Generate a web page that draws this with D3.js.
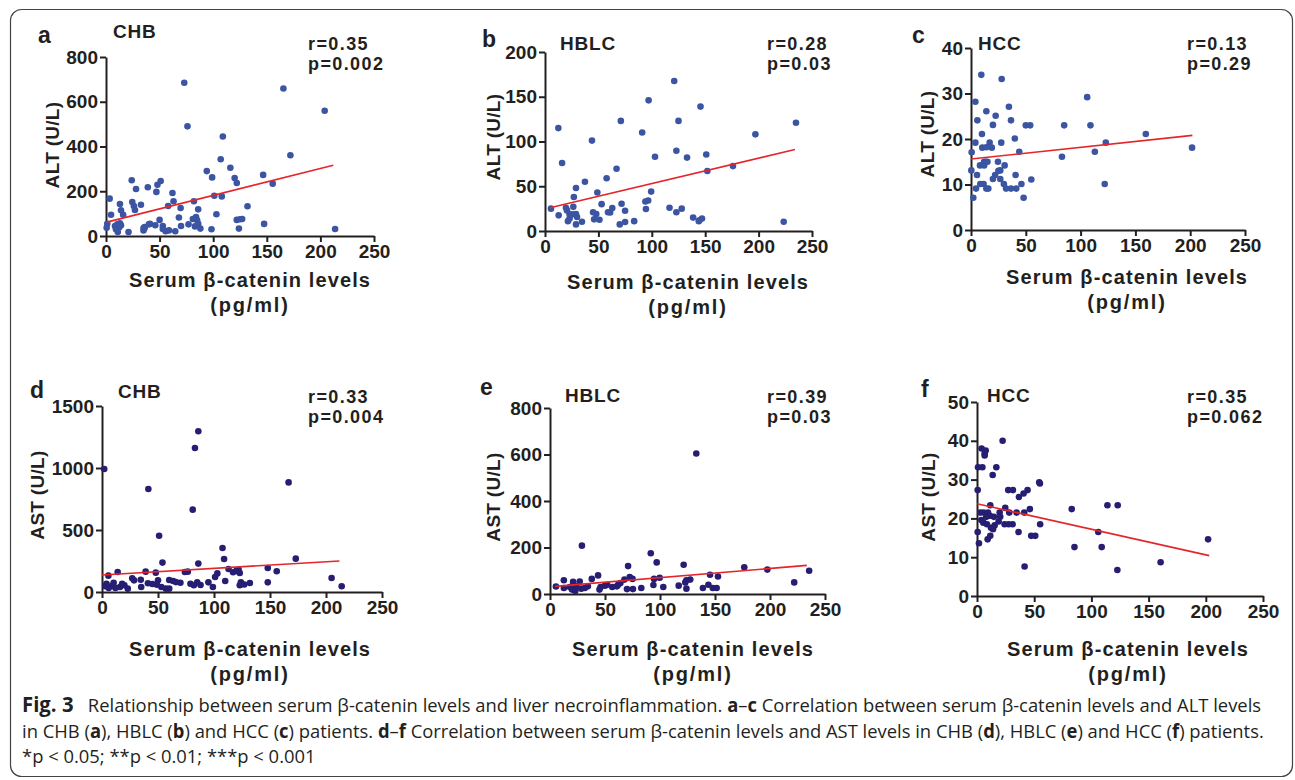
<!DOCTYPE html>
<html>
<head>
<meta charset="utf-8">
<script src="https://cdn.jsdelivr.net/npm/d3@7"></script>
<style>
  body { margin: 0; background: #fff; }
  svg text { fill: #231f20; }
  .axis path, .axis line { stroke: #231f20; stroke-width: 2; }
  .axis text { font-family: "Liberation Sans", Arial, sans-serif; font-weight: bold; font-size: 19px; fill: #231f20; }
</style>
</head>
<body>
<svg id="fig" width="1295" height="780"></svg>
<script>
// ---- data ----
// a: CHB, ALT
var aPoints = [[73,685],[165.5,659],[204,560],[76,490],[109,445],[172,361],[107,343],[94,290],[116,305],[99,262],[120,259],[122,237],[146.6,273],[155.5,234],[24,249],[28,210],[39,218],[48,229],[51,246],[47,197],[3.4,167],[13,143],[24.5,152],[26,134],[32.6,140],[27,116],[62,192],[63,155],[58,134],[14,115],[16,95],[4.7,95],[101,180],[108,177],[82,155],[69.6,125],[86,119],[132,133],[103,97],[68,83],[81,76],[84,85],[85,70],[86,54],[77,52],[50,72],[41,54],[36,36],[46,48],[53,45],[122,72],[127,76],[125,75],[147.5,54],[124,33],[213.7,31],[98.4,30],[88,33],[70,45],[83,43],[55.6,21],[64.6,21],[58.7,25],[53,31],[1.2,55],[0.6,37],[8.4,45],[10.6,52],[13,57],[9.3,30],[11,18],[21,18],[35,25],[35,36],[12.4,39],[14,48],[40,52],[36,40]];
// b: HBLC, ALT
var bPoints = [[121,167.6],[97,146],[145.6,139],[235,121],[71,123],[125,123],[12.5,115],[91,110],[197,108],[44,101],[123,89.6],[151,85.5],[103,83],[133,82],[16,76],[176,72.5],[152,67],[67,69.5],[57.7,59],[37.4,55],[29,48],[49,43],[99.4,44],[27,38],[96.6,34],[94,33],[53,30],[71.7,30.5],[5.6,25],[19.6,26],[26.5,27],[20.6,23],[116.6,26],[128,25],[94.5,24.5],[75,22.7],[63,25.6],[61,20.8],[59,21],[45,21],[48,19],[123,21],[12.8,17.5],[23,18.6],[25.6,18.6],[29,19],[30,15.6],[23,14],[21.5,11],[138.7,15],[147,14],[144.6,12],[144,11],[223.5,10.4],[34.6,10.4],[29,7.4],[46,13],[51,12.6],[75,10],[83.5,11],[70,7.4]];
// c: HCC, ALT
var cPoints = [[9.4,34.1],[28,33.2],[106,29.2],[4,28.2],[34.6,27.1],[14,26.1],[5.8,24.1],[22.5,25.1],[36.5,24.1],[50,23],[54,23],[85,23],[109,23],[20,23.1],[10,21.1],[159.5,21.1],[4,19.2],[17,19.2],[27.6,19.2],[123,19.2],[40,20.1],[10.3,18.1],[14,18.2],[19,18.1],[201.7,18.1],[0.6,17.1],[44,17.2],[113,17.2],[83,16.1],[13.4,15],[12,15],[15,15],[24.6,15],[8.2,14.2],[12,14.2],[30.7,14.2],[0.3,13.1],[26.7,13.1],[5.5,12.1],[22,12.1],[40.7,12.1],[25,13],[20,11.2],[26.7,11.2],[55,11.1],[8.5,10.1],[11.5,10.1],[30,10.1],[46,10.1],[122,10.1],[4.6,9.1],[14,9.1],[15.8,9.1],[32,9.1],[36.5,9.1],[41.3,9.1],[2.1,7.1],[48,7.1]];
// d: CHB, AST
var dPoints = [[86,1296],[83,1161],[2,992],[166.6,884],[41.4,831],[81,664],[51,454],[107.6,355],[109,266],[173,269],[54,237],[86,229],[148,194],[113,185],[122,180],[123,153],[117,159],[156,167],[103,150],[101,121],[205,113],[74,161],[76.6,164],[39,164],[48,156],[14,161],[5.7,132],[27,110],[28.6,94],[34.6,99],[41,70],[50,94],[60,97],[63.5,89],[70,75],[110,89],[148,78],[124,78],[132,73],[95,78],[79,67],[85,78],[88,56],[99,40],[82,54],[123,54],[214,46],[3,46],[9,51],[16,40],[23,27],[6,32],[12,32],[4,67],[49,59],[53,40],[57,27],[60,27],[35,40],[18,67],[10.4,75],[45,65],[66,80],[120,170],[127,60],[20,55]];
// e: HBLC, AST
var ePoints = [[133,604],[29,208],[91.6,175],[97,136],[121.5,126],[71,120],[176.6,115],[197.6,105],[235.6,100],[145.5,83],[152.7,75],[72.5,73],[43.7,80],[38,65],[99.7,70],[94.6,65],[75,65],[67.7,62],[127.5,62],[124,59],[123,50],[12.6,59],[27,54],[21,52],[222,50],[5.4,32],[12.6,26],[18,30],[24,33],[20,19],[23,13],[28.4,23],[31.7,26],[34.4,33],[45,19],[46,30],[50,36],[52,40],[56.6,30],[60.8,33],[62,40],[64,47],[70,21],[75.4,21],[83,26],[94,39],[103,30],[117,36],[124,23],[139,26],[144,40],[148,26],[151.5,26]];
// f: HCC, AST
var fPoints = [[22.4,40],[4,38],[7.6,37.5],[6.7,36.7],[6.7,36.2],[0.9,33.2],[4.7,33.2],[16.9,33.2],[13.7,31.2],[0.6,27.3],[27.3,27.3],[31.4,27.3],[44.2,27.3],[54.4,29.3],[55,29],[40.7,26.4],[36.6,25.5],[24.7,22.7],[11.6,23.4],[46.2,22.4],[82.8,22.4],[114,23.4],[123,23.4],[2.9,21.5],[5.8,21.5],[9.6,21.5],[14.8,20.4],[19.8,21.5],[20.3,20.4],[28.2,21.5],[34.6,21.5],[41.3,21.5],[8.1,20.4],[11.3,20.7],[3.8,19.6],[5.5,18.9],[8.7,18.5],[12.2,17.6],[15.4,18.2],[14,17.2],[18.9,19.2],[24.1,18.5],[27.6,18.5],[31.1,18.5],[55.2,18.5],[0.6,16.5],[36.3,16.5],[106,16.5],[11.6,15.5],[9.3,14.6],[47.4,15.5],[50.9,15.5],[202,14.6],[1.7,13.6],[85.2,12.6],[109,12.6],[160.5,8.7],[41.6,7.6],[122.7,6.7]];

// fitted lines (end points)
var aFit = [[0.8,62],[212,316]];
var bFit = [[4.7,26],[234,91]];
var cFit = [[0,15.6],[202,20.8]];
var dFit = [[0,137],[212,250]];
var eFit = [[4.5,33],[233.5,123]];
var fFit = [[0,23.8],[203,10.4]];

var panelLetters = ["a", "b", "c", "d", "e", "f"];
var groups = ["CHB", "HBLC", "HCC", "CHB", "HBLC", "HCC"];
var yLabels = ["ALT (U/L)", "ALT (U/L)", "ALT (U/L)", "AST (U/L)", "AST (U/L)", "AST (U/L)"];
var rValues = ["r=0.35", "r=0.28", "r=0.13", "r=0.33", "r=0.39", "r=0.35"];
var pValues = ["p=0.002", "p=0.03", "p=0.29", "p=0.004", "p=0.03", "p=0.062"];
var yMax = [800, 200, 40, 1500, 800, 50];
var yTicks = [[0,200,400,600,800], [0,50,100,150,200], [0,10,20,30,40], [0,500,1000,1500], [0,200,400,600,800], [0,10,20,30,40,50]];
var xTicks = [0, 50, 100, 150, 200, 250];
var xLabel1 = "Serum β-catenin levels";
var xLabel2 = "(pg/ml)";

// ---- layout ----
var svg = d3.select("#fig");
var font = "'Liberation Sans', Arial, sans-serif";
var blueDot = "#3b55a3";
var navyDot = "#261e72";
var fitRed = "#e4262b";

var layout = [
	{x0: 106, x1: 374, y0: 236, y1: 57, lx: 38, ly: 43, tx: 113, ty: 38, rx: 308, ry: 50, ylx: 52, yly: 145, xlx: 250, xly: 287, dot: blueDot},
	{x0: 545, x1: 812, y0: 231, y1: 52, lx: 482, ly: 47, tx: 560, ty: 50, rx: 767, ry: 50, ylx: 493, yly: 137, xlx: 688, xly: 289, dot: blueDot},
	{x0: 971, x1: 1245, y0: 230, y1: 48, lx: 912, ly: 43, tx: 978, ty: 50, rx: 1187, ry: 50, ylx: 927, yly: 134, xlx: 1127, xly: 284, dot: blueDot},
	{x0: 102, x1: 382, y0: 592, y1: 406, lx: 30, ly: 398, tx: 118, ty: 398, rx: 308, ry: 403, ylx: 37, yly: 495, xlx: 250, xly: 656, dot: navyDot},
	{x0: 550, x1: 825, y0: 594, y1: 408, lx: 480, ly: 395, tx: 565, ty: 402, rx: 767, ry: 403, ylx: 493, yly: 497, xlx: 693, xly: 656, dot: navyDot},
	{x0: 977, x1: 1263, y0: 596, y1: 402, lx: 921, ly: 397, tx: 987, ty: 402, rx: 1187, ry: 403, ylx: 928, yly: 497, xlx: 1128, xly: 656, dot: navyDot}
];

var allPoints = [aPoints, bPoints, cPoints, dPoints, ePoints, fPoints];
var allFits = [aFit, bFit, cFit, dFit, eFit, fFit];

// outer rounded frame
svg.append("rect")
	.attr("x", 10.5).attr("y", 9.5)
	.attr("width", 1282).attr("height", 767)
	.attr("rx", 11).attr("ry", 11)
	.attr("fill", "none")
	.attr("stroke", "#444")
	.attr("stroke-width", 1.2);

function drawPanel(i) {
	var L = layout[i];
	var g = svg.append("g");

	var x = d3.scaleLinear().domain([0, 250]).range([L.x0, L.x1]);
	var y = d3.scaleLinear().domain([0, yMax[i]]).range([L.y0, L.y1]);

	g.append("g")
	.attr("class", "axis")
	.attr("transform", "translate(0," + L.y0 + ")")
	.call(d3.axisBottom(x).tickValues(xTicks).tickSize(6).tickSizeOuter(0).tickPadding(3).tickFormat(d3.format("d")));

	g.append("g")
	.attr("class", "axis")
	.attr("transform", "translate(" + L.x0 + ",0)")
	.call(d3.axisLeft(y).tickValues(yTicks[i]).tickSize(6).tickSizeOuter(0).tickPadding(2).tickFormat(d3.format("d")));

	// dots
	g.selectAll(".dot")
	.data(allPoints[i])
	.enter().append("circle")
	.attr("class", "dot")
	.attr("r", 3.3)
	.attr("cx", function(d) { return x(d[0]); })
	.attr("cy", function(d) { return y(d[1]); })
	.style("fill", L.dot);

	// regression line
	g.append("path")
	.datum(allFits[i])
	.attr("d", d3.line().x(function(d) { return x(d[0]); }).y(function(d) { return y(d[1]); }))
	.attr("fill", "none")
	.attr("stroke", fitRed)
	.attr("stroke-width", 1.6);

	// texts
	g.append("text")
	.attr("x", L.lx).attr("y", L.ly)
	.style("font-family", font).style("font-weight", "bold").style("font-size", "23px")
	.text(panelLetters[i]);

	g.append("text")
	.attr("x", L.tx).attr("y", L.ty)
	.style("font-family", font).style("font-weight", "bold").style("font-size", "19px")
	.style("letter-spacing", "0.8px")
	.text(groups[i]);

	g.append("text")
	.attr("x", L.rx).attr("y", L.ry)
	.style("font-family", font).style("font-weight", "bold").style("font-size", "18px")
	.style("letter-spacing", "1.4px")
	.text(rValues[i]);

	g.append("text")
	.attr("x", L.rx).attr("y", L.ry + 20)
	.style("font-family", font).style("font-weight", "bold").style("font-size", "18px")
	.style("letter-spacing", "1.4px")
	.text(pValues[i]);

	g.append("text")
	.attr("transform", "translate(" + L.ylx + "," + L.yly + ") rotate(-90)")
	.attr("text-anchor", "middle")
	.attr("dy", "0.35em")
	.style("font-family", font).style("font-weight", "bold").style("font-size", "19px")
	.style("letter-spacing", "0.3px")
	.text(yLabels[i]);

	g.append("text")
	.attr("x", L.xlx).attr("y", L.xly)
	.attr("text-anchor", "middle")
	.style("font-family", font).style("font-weight", "bold").style("font-size", "20px")
	.style("letter-spacing", "1.1px")
	.text(xLabel1);

	g.append("text")
	.attr("x", L.xlx).attr("y", L.xly + 25)
	.attr("text-anchor", "middle")
	.style("font-family", font).style("font-weight", "bold").style("font-size", "20px")
	.style("letter-spacing", "1.8px")
	.text(xLabel2);
}

for (var i = 0; i < 6; i++) drawPanel(i);

// ---- caption ----
var captionLines = [
	[["Fig. 3", true], ["   Relationship between serum β-catenin levels and liver necroinflammation. ", false], ["a", true], ["–", false], ["c", true], [" Correlation between serum β-catenin levels and ALT levels", false]],
	[["in CHB (", false], ["a", true], ["), HBLC (", false], ["b", true], [") and HCC (", false], ["c", true], [") patients. ", false], ["d", true], ["–", false], ["f", true], [" Correlation between serum β-catenin levels and AST levels in CHB (", false], ["d", true], ["), HBLC (", false], ["e", true], [") and HCC (", false], ["f", true], [") patients.", false]],
	[["*p < 0.05; **p < 0.01; ***p < 0.001", false]]
];
var captionY = [712, 738, 763];
var capFont = "'Open Sans', 'Noto Sans', sans-serif";
var capSize = 19;

// the caption face is narrower than Open Sans, so squeeze it horizontally
var capG = svg.append("g");
var capTexts = captionLines.map(function(parts, k) {
	var t = capG.append("text")
	.attr("x", 0).attr("y", captionY[k])
	.style("font-family", capFont).style("font-size", capSize + "px")
	.attr("xml:space", "preserve")
	.style("white-space", "pre");
	parts.forEach(function(p) {
		t.append("tspan")
		.style("font-weight", p[1] ? "bold" : "normal")
		.style("font-size", p[0] == "Fig. 3" ? (capSize + 2) + "px" : null)
		.text(p[0]);
	});
	return t;
});

var w1 = capTexts[0].node().getComputedTextLength();
capG.attr("transform", "translate(22,0) scale(" + (1240 / w1) + ",1)");
</script>
</body>
</html>
